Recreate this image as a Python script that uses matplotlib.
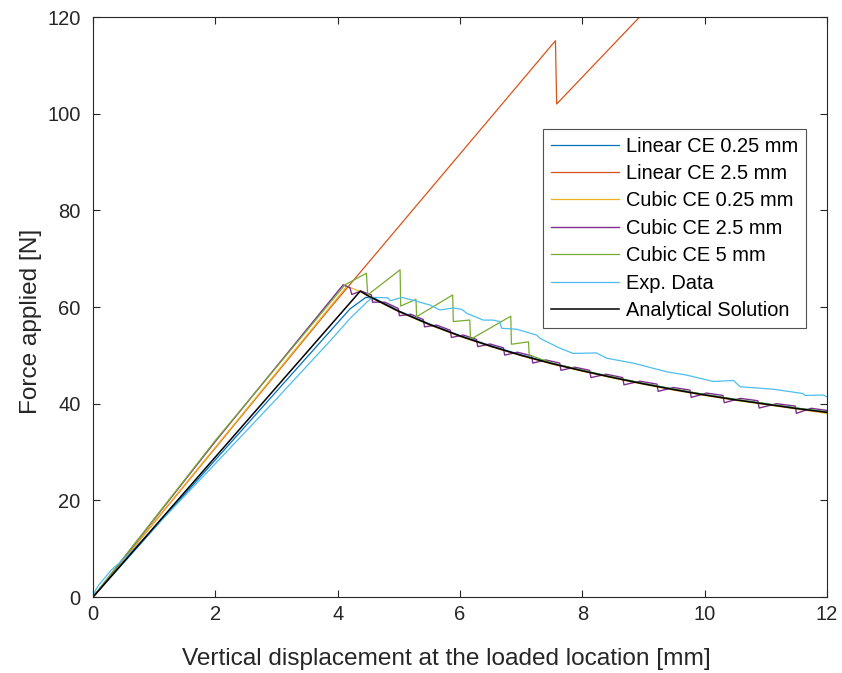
import matplotlib
matplotlib.use("Agg")
import matplotlib.pyplot as plt

plt.rcParams['font.family'] = ['Liberation Sans', 'DejaVu Sans']

# Linear cohesive element, 0.25 mm
lin025_x = [0.0, 4.2, 4.46, 4.6, 5.0, 5.5, 6.0, 6.5, 7.0, 7.5, 8.0, 8.5, 9.0, 9.5, 10.0, 10.5, 11.0, 11.5, 12.0]
lin025_y = [0.0, 59.6, 62.0, 61.8, 59.2, 56.5, 54.1, 52.0, 50.1, 48.4, 46.9, 45.5, 44.2, 43.0, 41.9, 40.9, 40.0, 39.1, 38.3]

# Linear cohesive element, 2.5 mm
lin25_x = [0.0, 3.87, 7.56, 7.58, 8.89, 9.2]
lin25_y = [0.0, 59.7, 115.1, 102.0, 119.4, 123.5]

# Cubic cohesive element, 0.25 mm
cub025_x = [0.0, 4.15, 4.37, 4.5, 5.0, 5.5, 6.0, 6.5, 7.0, 7.5, 8.0, 8.5, 9.0, 9.5, 10.0, 10.5, 11.0, 11.5, 12.0]
cub025_y = [0.0, 64.3, 63.2, 62.2, 59.0, 56.3, 53.9, 51.8, 49.9, 48.2, 46.7, 45.3, 44.0, 42.8, 41.7, 40.7, 39.8, 38.9, 38.0]

# Cubic cohesive element, 2.5 mm
cub25_x = [0.0, 2.0, 4.09, 4.20, 4.23, 4.38,
           4.55, 4.57, 4.77, 4.99, 5.01, 5.195, 5.40, 5.42, 5.62, 5.84, 5.86, 6.055,
           6.27, 6.29, 6.49, 6.71, 6.73, 6.94, 7.17, 7.19, 7.40, 7.63, 7.65, 7.875,
           8.12, 8.14, 8.39, 8.66, 8.68, 8.94, 9.22, 9.24, 9.49, 9.76, 9.78, 10.03,
           10.30, 10.32, 10.585, 10.87, 10.89, 11.175, 11.48, 11.50, 11.74, 12.0]
cub25_y = [0.0, 32.2, 64.6, 64.0, 62.6, 63.3,
           62.5, 61.0, 61.0, 59.7, 58.2, 58.5, 57.4, 55.9, 56.25, 55.2, 53.7, 54.2,
           53.3, 51.8, 52.35, 51.55, 50.05, 50.65, 49.9, 48.4, 49.05, 48.4, 46.9, 47.55,
           46.9, 45.4, 46.1, 45.4, 43.9, 44.65, 44.05, 42.55, 43.35, 42.8, 41.3, 42.2,
           41.7, 40.2, 41.1, 40.6, 39.1, 40.0, 39.5, 38.0, 39.05, 38.6]

# Cubic cohesive element, 5 mm
cub5_x = [0.0, 2.0, 4.12, 4.47, 4.49, 5.02, 5.03, 5.28, 5.29, 5.88, 5.89, 6.16, 6.17,
          6.83, 6.84, 7.12, 7.13, 7.5, 8.0, 8.5, 9.0, 9.5, 10.0, 10.5, 11.0, 11.5, 12.0]
cub5_y = [0.0, 32.4, 64.6, 67.0, 62.5, 67.7, 60.2, 61.6, 58.0, 62.5, 57.0, 57.3, 53.3,
          58.1, 52.3, 52.8, 50.1, 48.4, 46.9, 45.5, 44.2, 43.0, 41.9, 40.9, 40.0, 39.1, 38.3]

# Experimental measurement
exp_x = [0.0, 0.04, 0.1, 0.3, 0.6, 1.0, 2.0, 3.0, 3.87, 4.2, 4.5, 4.58,
         4.82, 4.86, 5.05, 5.23, 5.51, 5.67, 5.89, 6.03, 6.11, 6.38, 6.54, 6.65, 6.68,
         6.93, 7.25, 7.31, 7.47, 7.63, 7.85, 8.23, 8.40, 8.83, 9.38, 9.71, 10.14, 10.47,
         10.58, 11.12, 11.61, 11.64, 11.94, 12.0]
exp_y = [0.0, 1.4, 2.6, 5.6, 9.0, 14.3, 27.6, 41.0, 52.9, 57.6, 61.3, 62.0,
         61.9, 61.3, 62.0, 61.4, 60.4, 59.4, 59.8, 59.5, 58.7, 57.3, 57.3, 57.0, 55.6,
         55.4, 54.2, 53.5, 52.5, 51.5, 50.4, 50.5, 49.4, 48.4, 46.6, 45.9, 44.6, 44.8,
         43.5, 43.0, 42.1, 41.7, 41.8, 41.4]

# Analytical solution
ana_x = [0.0, 4.37, 4.5, 5.0, 5.5, 6.0, 6.5, 7.0, 7.5, 8.0, 8.5, 9.0, 9.5, 10.0, 10.5, 11.0, 11.5, 12.0]
ana_y = [0.0, 63.3, 62.3, 59.1, 56.4, 54.0, 51.9, 50.0, 48.3, 46.8, 45.4, 44.1, 42.9, 41.8, 40.8, 39.9, 39.0, 38.2]

series = [
    (lin025_x, lin025_y, 'Linear CE 0.25 mm', '#0072BD', 0.9),
    (lin25_x, lin25_y, 'Linear CE 2.5 mm', '#D95319', 0.9),
    (cub025_x, cub025_y, 'Cubic CE 0.25 mm', '#EDB120', 0.9),
    (cub25_x, cub25_y, 'Cubic CE 2.5 mm', '#7E2F8E', 1.0),
    (cub5_x, cub5_y, 'Cubic CE 5 mm', '#77AC30', 0.9),
    (exp_x, exp_y, 'Exp. Data', '#4DBEEE', 0.9),
    (ana_x, ana_y, 'Analytical Solution', '#000000', 1.1),
]

fig = plt.figure(figsize=(8.42, 6.73), dpi=100)
ax = fig.add_axes([0.1105, 0.1129, 0.8717, 0.8618])

for x, y, label, color, lw in series:
    ax.plot(x, y, color=color, lw=lw, label=label)

ax.set_xlim(0, 12)
ax.set_ylim(0, 120)
ax.set_xticks(range(0, 13, 2))
ax.set_yticks(range(0, 121, 20))

axis_color = '#262626'
for side in ax.spines.values():
    side.set_color(axis_color)
    side.set_linewidth(0.8)
ax.tick_params(direction='in', top=True, right=True, length=5, width=0.8,
               colors=axis_color, labelsize=14.5)
ax.tick_params(axis='y', pad=9)
ax.tick_params(axis='x', pad=6)

ax.set_xlabel('Vertical displacement at the loaded location [mm]', fontsize=17.6, color=axis_color)
ax.set_ylabel('Force applied [N]', fontsize=17.6, color=axis_color)
ax.xaxis.set_label_coords(0.482, -0.088)
ax.yaxis.set_label_coords(-0.070, 0.476)

leg = ax.legend(loc='upper left', bbox_to_anchor=(0.613, 0.8075), fontsize=14.4,
                frameon=True, fancybox=False, edgecolor=axis_color, handlelength=3.4,
                handletextpad=0.35, labelspacing=0.42, borderpad=0.4, borderaxespad=0)
leg.get_frame().set_linewidth(0.8)

fig.savefig('out.png', dpi=100)
